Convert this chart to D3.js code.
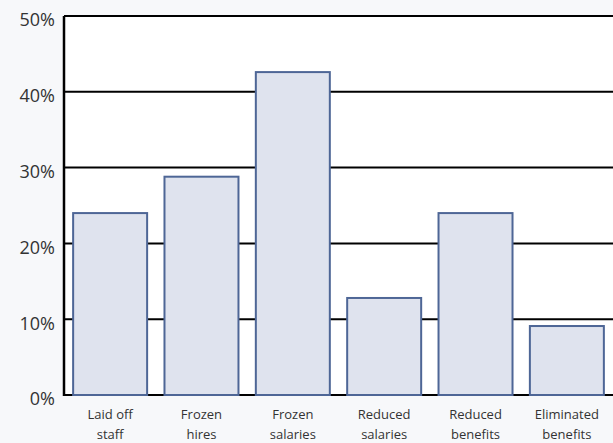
<!DOCTYPE html>
<html>
<head>
<meta charset="utf-8">
<script src="https://cdn.jsdelivr.net/npm/d3@7"></script>
<style>
  html, body { margin: 0; padding: 0; background: #f7f8fa; }
  svg { display: block; }
  text { font-family: "Open Sans", sans-serif; fill: #333; }
</style>
</head>
<body>
<svg id="chart" width="613" height="443"></svg>
<script>
const categories = [
  ["Laid off", "staff"],
  ["Frozen", "hires"],
  ["Frozen", "salaries"],
  ["Reduced", "salaries"],
  ["Reduced", "benefits"],
  ["Eliminated", "benefits"]
];
const values = [24.0, 28.8, 42.6, 12.8, 24.0, 9.1];
const yTicks = [0, 10, 20, 30, 40, 50];

const svg = d3.select("#chart");
const margin = { left: 64, right: 0, top: 16, bottom: 48 };
const W = 613, H = 443;
const innerW = W - margin.left - margin.right;
const innerH = H - margin.top - margin.bottom;

const g = svg.append("g").attr("transform", `translate(${margin.left},${margin.top})`);

const x = d3.scaleBand()
  .domain(d3.range(categories.length))
  .range([0, innerW])
  .paddingInner(0.19)
  .paddingOuter(0.1);

const y = d3.scaleLinear().domain([0, 50]).range([innerH, 0]);

// plot background
g.append("rect").attr("x", 0).attr("y", 0).attr("width", innerW).attr("height", innerH).attr("fill", "#fff");

// horizontal grid lines
g.selectAll("line.grid").data(yTicks).join("line")
  .attr("class", "grid")
  .attr("x1", 0).attr("x2", innerW)
  .attr("y1", d => y(d)).attr("y2", d => y(d))
  .attr("stroke", "#000").attr("stroke-width", 2);

// bars
g.selectAll("rect.bar").data(values).join("rect")
  .attr("class", "bar")
  .attr("x", (d, i) => x(i))
  .attr("y", d => y(d))
  .attr("width", x.bandwidth())
  .attr("height", d => innerH - y(d))
  .attr("fill", "#dfe3ee")
  .attr("stroke", "#4e6696")
  .attr("stroke-width", 2);

// left axis line
g.append("line").attr("x1", 0).attr("x2", 0).attr("y1", 0).attr("y2", innerH + 1)
  .attr("stroke", "#000").attr("stroke-width", 2.5);

// y tick labels
const yAxis = d3.axisLeft(y).tickValues(yTicks).tickFormat(d => d + "%").tickSize(0).tickPadding(9);
const ya = g.append("g").call(yAxis);
ya.select(".domain").remove();
ya.selectAll("text")
  .attr("dy", "0.55em")
  .style("font-family", "'Open Sans', sans-serif")
  .style("font-size", "18px")
  .attr("fill", "#222");

// category labels
const xl = g.append("g").attr("transform", `translate(0,${innerH})`);
categories.forEach((lines, i) => {
  const t = xl.append("text")
    .attr("x", x(i) + x.bandwidth() / 2)
    .attr("text-anchor", "middle")
    .style("font-size", "13px");
  lines.forEach((s, k) => {
    t.append("tspan").attr("x", x(i) + x.bandwidth() / 2).attr("y", 24 + k * 20).text(s);
  });
});
</script>
</body>
</html>
